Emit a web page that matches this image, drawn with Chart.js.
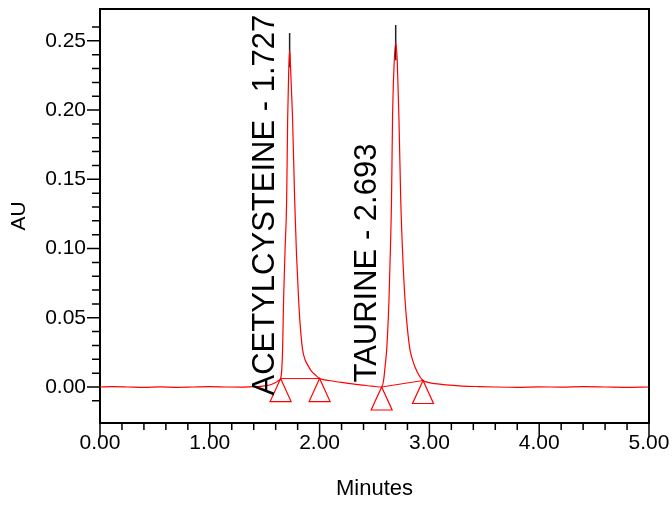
<!DOCTYPE html>
<html>
<head>
<meta charset="utf-8">
<title>Chromatogram</title>
<script src="https://cdn.jsdelivr.net/npm/chart.js@4.4.1/dist/chart.umd.min.js"></script>
<style>
  html, body { margin: 0; padding: 0; background: #fff; }
</style>
</head>
<body>
<canvas id="chrom" width="672" height="505"></canvas>
<script>
// detector trace, minutes vs AU
const traceTimes = [
  0.00, 0.10, 0.25, 0.40, 0.55, 0.70, 0.85, 1.00, 1.15, 1.30, 1.42, 1.50, 1.56, 1.60, 1.625,
  1.645, 1.655, 1.663, 1.672, 1.686, 1.700, 1.709, 1.718, 1.727, 1.736, 1.745, 1.754, 1.773,
  1.790, 1.809, 1.826, 1.845, 1.866, 1.891, 1.925, 1.964, 2.000, 2.05, 2.10, 2.20, 2.30, 2.40,
  2.48, 2.565, 2.585, 2.596, 2.611, 2.632, 2.645, 2.655, 2.664, 2.678, 2.693, 2.708, 2.723,
  2.739, 2.757, 2.778, 2.800, 2.823, 2.845, 2.869, 2.905, 2.942, 2.98, 3.05, 3.15, 3.30, 3.45,
  3.60, 3.80, 4.00, 4.20, 4.40, 4.60, 4.80, 5.00
];
const traceAu = [
  0.0000, 0.0002, 0.0000, -0.0003, 0.0001, -0.0002, 0.0000, 0.0002, 0.0000, -0.0001, 0.0002, 0.0008, 0.0018, 0.0032, 0.0046,
  0.0061, 0.0120, 0.0270, 0.0630, 0.1000, 0.1350, 0.1930, 0.2260, 0.2433, 0.2300, 0.2120, 0.1930, 0.1350,
  0.0950, 0.0630, 0.0420, 0.0270, 0.0200, 0.0160, 0.0115, 0.0085, 0.0061, 0.0052, 0.0045, 0.0033, 0.0022, 0.0013,
  0.0006, 0.0000, 0.0060, 0.0145, 0.0270, 0.0630, 0.1000, 0.1350, 0.1930, 0.2320, 0.2484, 0.2340, 0.1930,
  0.1350, 0.0950, 0.0630, 0.0420, 0.0270, 0.0200, 0.0145, 0.0085, 0.0047, 0.0035, 0.0024, 0.0015, 0.0007, 0.0003,
  0.0000, -0.0002, 0.0001, -0.0001, 0.0002, 0.0000, -0.0002, 0.0000
];

// integrated peaks
const peakNames = ["ACETYLCYSTEINE", "TAURINE"];
const peakTimes = [1.727, 2.693];
const apexMarkTop = [0.2556, 0.2614];
const apexMarkBottom = [0.2310, 0.2360];
const baseStartTime = [1.645, 2.565];
const baseStartAu = [0.0061, 0.0000];
const baseEndTime = [2.000, 2.942];
const baseEndAu = [0.0061, 0.0047];

// axis labels
const xTickLabels = ["0.00", "1.00", "2.00", "3.00", "4.00", "5.00"];
const yTickLabels = ["0.00", "0.05", "0.10", "0.15", "0.20", "0.25"];

const RED = "rgb(255,0,0)";
const FONT = '"Liberation Sans", Arial, sans-serif';

function onStep(v, step) {
  const n = v / step;
  return Math.abs(n - Math.round(n)) < 1e-6;
}

const datasets = [{
  data: traceTimes.map((t, i) => ({ x: t, y: traceAu[i] })),
  borderColor: RED,
  borderWidth: 1.2,
  pointRadius: 0,
  cubicInterpolationMode: "monotone"
}];

peakTimes.forEach((t, i) => {
  datasets.push({
    data: [{ x: baseStartTime[i], y: baseStartAu[i] }, { x: baseEndTime[i], y: baseEndAu[i] }],
    borderColor: RED,
    borderWidth: 1,
    pointRadius: 0
  });
  datasets.push({
    data: [{ x: t, y: apexMarkTop[i] }, { x: t, y: apexMarkBottom[i] }],
    borderColor: "#222",
    borderWidth: 1.5,
    pointRadius: 0
  });
});

// major/minor tick marks on the outside of both axes, plus the top/right frame
const axisTicks = {
  id: "axisTicks",
  afterDraw(chart) {
    const { ctx, chartArea: a, scales: { x, y } } = chart;
    ctx.save();
    ctx.strokeStyle = "#000";
    ctx.lineWidth = 1.5;
    ctx.beginPath();
    y.ticks.forEach((t) => {
      if (!onStep(t.value, 0.01)) return;
      const py = y.getPixelForValue(t.value);
      const len = onStep(t.value, 0.05) ? 13 : 8;
      ctx.moveTo(a.left - len, py);
      ctx.lineTo(a.left, py);
    });
    x.ticks.forEach((t) => {
      if (!onStep(t.value, 0.2)) return;
      const px = x.getPixelForValue(t.value);
      const len = onStep(t.value, 1) ? 14 : 7;
      ctx.moveTo(px, a.bottom);
      ctx.lineTo(px, a.bottom + len);
    });
    ctx.stroke();
    ctx.lineWidth = 2;
    ctx.beginPath();
    ctx.moveTo(a.left, a.top);
    ctx.lineTo(a.right, a.top);
    ctx.lineTo(a.right, a.bottom);
    ctx.stroke();
    ctx.restore();
  }
};

// baseline markers and rotated peak names
const peakMarks = {
  id: "peakMarks",
  afterDatasetsDraw(chart, args, opts) {
    const { ctx, scales: { x, y } } = chart;
    ctx.save();
    ctx.strokeStyle = RED;
    ctx.lineWidth = 1.2;
    const ends = [];
    peakTimes.forEach((t, i) => {
      ends.push([baseStartTime[i], baseStartAu[i]], [baseEndTime[i], baseEndAu[i]]);
    });
    ends.forEach(([t, v]) => {
      const px = x.getPixelForValue(t);
      const py = y.getPixelForValue(v);
      ctx.beginPath();
      ctx.moveTo(px, py);
      ctx.lineTo(px - 10.5, py + 23);
      ctx.lineTo(px + 10.5, py + 23);
      ctx.closePath();
      ctx.stroke();
    });

    ctx.fillStyle = "#000";
    ctx.font = `31px ${FONT}`;
    ctx.textAlign = "left";
    ctx.textBaseline = "alphabetic";
    peakNames.forEach((name, i) => {
      const px = x.getPixelForValue(peakTimes[i]) + opts.dx[i];
      const py = y.getPixelForValue(0) + opts.dy[i];
      ctx.save();
      ctx.translate(px, py);
      ctx.rotate(-Math.PI / 2);
      ctx.fillText(`${name} - ${peakTimes[i].toFixed(3)}`, 0, 0);
      ctx.restore();
    });
    ctx.restore();
  }
};

Chart.defaults.font.family = FONT;
Chart.defaults.font.size = 21;
Chart.defaults.color = "#000";

new Chart(document.getElementById("chrom"), {
  type: "line",
  data: { datasets },
  options: {
    responsive: false,
    animation: false,
    layout: { padding: { top: 9, right: 23, bottom: 0, left: 0 } },
    plugins: {
      legend: { display: false },
      tooltip: { enabled: false },
      peakMarks: { dx: [-16, -20], dy: [8.5, -4.5] }
    },
    scales: {
      x: {
        type: "linear",
        min: 0,
        max: 5,
        grid: { display: false, drawTicks: false },
        border: { display: true, color: "#000", width: 2 },
        ticks: {
          stepSize: 0.2,
          autoSkip: false,
          maxRotation: 0,
          padding: 8,
          callback: (v) => (onStep(v, 1) ? xTickLabels[Math.round(v)] : "")
        },
        title: { display: true, text: "Minutes", font: { size: 22 }, padding: { top: 0, bottom: 3 } },
        afterFit: (s) => { s.height = 82; s.paddingLeft = 0; s.paddingRight = 0; }
      },
      y: {
        type: "linear",
        min: -0.026,
        max: 0.273,
        grid: { display: false, drawTicks: false },
        border: { display: true, color: "#000", width: 2 },
        ticks: {
          stepSize: 0.01,
          autoSkip: false,
          padding: 14,
          callback: (v) => (onStep(v, 0.05) && v >= -1e-9 ? yTickLabels[Math.round(v / 0.05)] : "")
        },
        title: { display: true, text: "AU", font: { size: 21 }, padding: { top: 7, bottom: 0 } },
        afterFit: (s) => { s.width = 100; s.paddingTop = 0; s.paddingBottom = 0; }
      }
    }
  },
  plugins: [axisTicks, peakMarks]
});
</script>
</body>
</html>
